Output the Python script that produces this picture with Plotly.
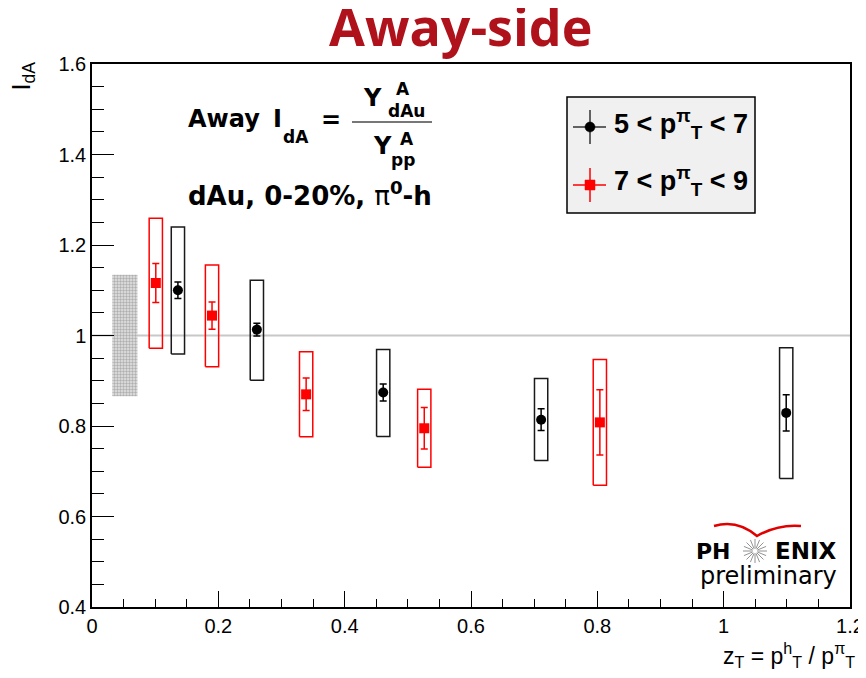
import plotly.graph_objects as go
import math

# ---------------- data ----------------
zt_low = [0.136, 0.261, 0.461, 0.711, 1.099]          # 5 < pT(pi) < 7
ida_low = [1.100, 1.013, 0.874, 0.814, 0.829]
stat_low = [0.018, 0.014, 0.019, 0.024, 0.040]
sys_low_hi = [1.240, 1.122, 0.969, 0.905, 0.973]
sys_low_lo = [0.959, 0.901, 0.777, 0.724, 0.684]

zt_high = [0.101, 0.190, 0.339, 0.526, 0.804]         # 7 < pT(pi) < 9
ida_high = [1.116, 1.044, 0.870, 0.795, 0.808]
stat_high = [0.043, 0.030, 0.036, 0.046, 0.072]
sys_high_hi = [1.259, 1.156, 0.964, 0.881, 0.947]
sys_high_lo = [0.972, 0.931, 0.776, 0.709, 0.669]

norm_x = [0.052]
norm_lo = [0.866]
norm_hi = [1.134]

x_range = [0, 1.2]
y_range = [0.4, 1.6]

BOX_HW = 0.0105
NORM_HW = 0.02

# page is drawn with an 8px body margin
OFF = 8
PW, PH = 866, 678                 # page (window) size
W, H = PW - OFF, PH - OFF         # figure size
PX0, PX1, PY0, PY1 = 92, 850, 64, 607   # plot area in page pixels
L, R, T, B = PX0 - OFF, PW - PX1, PY0 - OFF, PH - PY1


def X(px):
    return (px - PX0) / (PX1 - PX0)


def Y(py):
    return (PY1 - py) / (PY1 - PY0)


def rects(xs, lo, hi, hw):
    xx, yy = [], []
    for x, a, b in zip(xs, lo, hi):
        xx += [x - hw, x + hw, x + hw, x - hw, x - hw, None]
        yy += [a, a, b, b, a, None]
    return xx, yy


fig = go.Figure()

# reference line at 1
fig.add_trace(go.Scatter(x=x_range, y=[1, 1], mode="lines",
                         line=dict(color="#c8c8c8", width=2), hoverinfo="skip", showlegend=False))

# normalisation uncertainty box
nx, ny = rects(norm_x, norm_lo, norm_hi, NORM_HW)
fig.add_trace(go.Scatter(x=nx, y=ny, mode="lines", fill="toself",
                         line=dict(width=0, color="rgba(0,0,0,0)"),
                         fillcolor="#b4b4b4",
                         fillpattern=dict(shape=".", fgcolor="#7a7a7a", bgcolor="#e4e4e4", size=3, solidity=0.5),
                         hoverinfo="skip", showlegend=False))

# systematic boxes
bx, by = rects(zt_low, sys_low_lo, sys_low_hi, BOX_HW)
fig.add_trace(go.Scatter(x=bx, y=by, mode="lines", line=dict(color="#1a1a1a", width=1.5),
                         hoverinfo="skip", showlegend=False))
rx, ry = rects(zt_high, sys_high_lo, sys_high_hi, BOX_HW)
fig.add_trace(go.Scatter(x=rx, y=ry, mode="lines", line=dict(color="#ff0000", width=1.5),
                         hoverinfo="skip", showlegend=False))

# points with statistical errors
fig.add_trace(go.Scatter(x=zt_high, y=ida_high, mode="markers",
                         marker=dict(symbol="square", size=10, color="#ff0000"),
                         error_y=dict(type="data", array=stat_high, color="#ff0000", thickness=1.5, width=3.5),
                         name="7 < pT < 9", showlegend=False))
fig.add_trace(go.Scatter(x=zt_low, y=ida_low, mode="markers",
                         marker=dict(symbol="circle", size=10, color="#000000"),
                         error_y=dict(type="data", array=stat_low, color="#000000", thickness=1.5, width=3.5),
                         name="5 < pT < 7", showlegend=False))

shapes = []
ann = []

SANS = "Liberation Sans, Arial, Helvetica, sans-serif"
DJV = "DejaVu Sans, sans-serif"

# ---------- legend (drawn) ----------
shapes.append(dict(type="rect", xref="paper", yref="paper", x0=X(567), x1=X(755), y0=Y(213), y1=Y(97),
                   fillcolor="#f0f0f0", line=dict(color="#000", width=1.5), layer="above"))
for cy, col, sym in [(127, "#000000", "circle"), (185, "#ff0000", "square")]:
    lc = "#333" if sym == "circle" else col
    shapes.append(dict(type="line", xref="paper", yref="paper", x0=X(573), x1=X(606), y0=Y(cy), y1=Y(cy),
                       line=dict(color=lc, width=1.5), layer="above"))
    shapes.append(dict(type="line", xref="paper", yref="paper", x0=X(590), x1=X(590), y0=Y(cy - 17), y1=Y(cy + 17),
                       line=dict(color=lc, width=1.5), layer="above"))
    if sym == "circle":
        shapes.append(dict(type="circle", xref="paper", yref="paper", x0=X(585), x1=X(595), y0=Y(cy + 5), y1=Y(cy - 5),
                           fillcolor=col, line=dict(color=col, width=0.5), layer="above"))
    else:
        shapes.append(dict(type="rect", xref="paper", yref="paper", x0=X(585), x1=X(595), y0=Y(cy + 5), y1=Y(cy - 5),
                           fillcolor=col, line=dict(color=col, width=0.5), layer="above"))

leg_font = dict(family=SANS, size=27, color="#000")
ann.append(dict(text="<b>5 &lt; p<sup>π</sup><sub>T</sub> &lt; 7</b>", x=X(612), y=Y(124), xanchor="left",
                yanchor="middle", font=leg_font))
ann.append(dict(text="<b>7 &lt; p<sup>π</sup><sub>T</sub> &lt; 9</b>", x=X(612), y=Y(181), xanchor="left",
                yanchor="middle", font=leg_font))

# ---------- formula ----------
fb = dict(family=DJV, size=24, color="#000")
fs = dict(family=DJV, size=17, color="#000")
ann.append(dict(text="<b>Away</b>", x=X(186), y=Y(119), xanchor="left", yanchor="middle", font=fb))
ann.append(dict(text="<b>I</b>", x=X(271), y=Y(119), xanchor="left", yanchor="middle", font=fb))
ann.append(dict(text="<b>dA</b>", x=X(281), y=Y(137), xanchor="left", yanchor="middle", font=fs))
ann.append(dict(text="<b>=</b>", x=X(331), y=Y(120), xanchor="center", yanchor="middle", font=fb))
ann.append(dict(text="<b>Y</b>", x=X(372), y=Y(98), xanchor="center", yanchor="middle", font=fb))
ann.append(dict(text="<b>A</b>", x=X(403), y=Y(89), xanchor="center", yanchor="middle", font=fs))
ann.append(dict(text="<b>dAu</b>", x=X(406), y=Y(111), xanchor="center", yanchor="middle", font=fs))
shapes.append(dict(type="line", xref="paper", yref="paper", x0=X(352), x1=X(432), y0=Y(122), y1=Y(122),
                   line=dict(color="#777", width=2)))
ann.append(dict(text="<b>Y</b>", x=X(382), y=Y(146), xanchor="center", yanchor="middle", font=fb))
ann.append(dict(text="<b>A</b>", x=X(407), y=Y(139), xanchor="center", yanchor="middle", font=fs))
ann.append(dict(text="<b>pp</b>", x=X(403), y=Y(160), xanchor="center", yanchor="middle", font=fs))
ann.append(dict(text="<b>dAu, 0-20%, </b>π<b><sup>0</sup>-h</b>", x=X(186), y=Y(194), xanchor="left",
                yanchor="middle", font=dict(family=DJV, size=26, color="#000")))

# ---------- title ----------
ann.append(dict(text="<b>Away-side</b>", x=X(460), y=Y(25), xanchor="center", yanchor="middle",
                font=dict(family="Open Sans, sans-serif", size=52, color="#b0121c")))

# ---------- axis titles ----------
ann.append(dict(text="I<sub>dA</sub>", x=X(22), y=Y(60), xanchor="center", yanchor="top", textangle=-90,
                font=dict(family=SANS, size=25, color="#000")))
ann.append(dict(text="z<sub>T</sub> = p<sup>h</sup><sub>T</sub> / p<sup>π</sup><sub>T</sub>", x=X(857), y=Y(655),
                xanchor="right", yanchor="middle", font=dict(family=SANS, size=23, color="#000")))

# ---------- PHENIX logo ----------
logo_bold = dict(family=DJV, size=22, color="#000")
ann.append(dict(text="<b>PH</b>", x=X(733), y=Y(551), xanchor="right", yanchor="middle", font=logo_bold))
ann.append(dict(text="<b>ENIX</b>", x=X(773), y=Y(551), xanchor="left", yanchor="middle",
                font=dict(family=DJV, size=23, color="#000")))
ann.append(dict(text="preliminary", x=X(839), y=Y(576), xanchor="right", yanchor="middle",
                font=dict(family=DJV, size=24, color="#000")))
cx, cy, r0, r1 = 755, 551, 2.5, 12
for k in range(16):
    a = 2 * math.pi * k / 16
    shapes.append(dict(type="line", xref="paper", yref="paper",
                       x0=X(cx + r0 * math.cos(a)), y0=Y(cy + r0 * math.sin(a)),
                       x1=X(cx + r1 * math.cos(a)), y1=Y(cy + r1 * math.sin(a)),
                       line=dict(color="#777", width=0.8)))
pts = [(714, 526), (737, 519), (757, 536), (778, 524), (801, 526)]
path = "M {},{} Q {},{} {},{} Q {},{} {},{}".format(
    X(pts[0][0]), Y(pts[0][1]), X(pts[1][0]), Y(pts[1][1]), X(pts[2][0]), Y(pts[2][1]),
    X(pts[3][0]), Y(pts[3][1]), X(pts[4][0]), Y(pts[4][1]))
shapes.append(dict(type="path", xref="paper", yref="paper", path=path, line=dict(color="#e00000", width=2.5)))

for a in ann:
    a.setdefault("xref", "paper")
    a.setdefault("yref", "paper")
    a.setdefault("showarrow", False)

axis_common = dict(showline=True, linecolor="#000", linewidth=1.5, mirror=True, ticks="inside",
                   tickcolor="#000", tickwidth=1.2, showgrid=False, zeroline=False,
                   tickfont=dict(family=SANS, size=20, color="#000"))

fig.update_layout(
    width=W, height=H,
    margin=dict(l=L, r=R, t=T, b=B, autoexpand=False),
    paper_bgcolor="white", plot_bgcolor="white",
    xaxis=dict(range=x_range, dtick=0.2, ticklen=16,
               minor=dict(ticks="inside", ticklen=8, dtick=0.05, tickcolor="#000", tickwidth=1), **axis_common),
    yaxis=dict(range=y_range, dtick=0.2, ticklen=22,
               minor=dict(ticks="inside", ticklen=12, dtick=0.05, tickcolor="#000", tickwidth=1), **axis_common),
    shapes=shapes,
    annotations=ann,
    showlegend=False,
)

fig.write_html("out.html")
